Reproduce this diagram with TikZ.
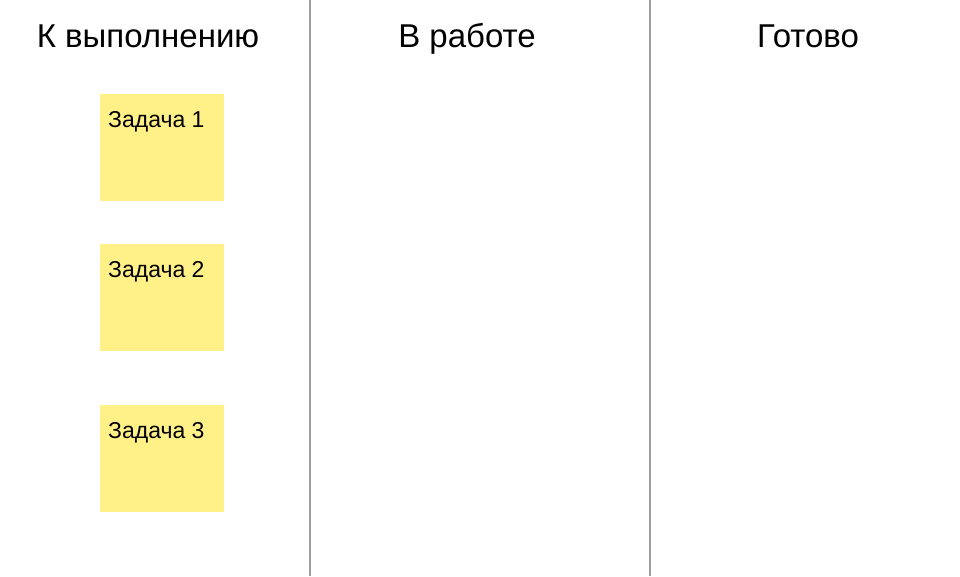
\documentclass[tikz,border=0pt]{standalone}
\usepackage{fontspec}
\setmainfont{Liberation Sans}
\usetikzlibrary{positioning}

\definecolor{notefill}{HTML}{FFF087}
\definecolor{divider}{HTML}{A0A0A0}

\tikzset{
    column/.style={anchor=base, font=\fontsize{33}{38}\selectfont},
    note/.style={fill=notefill, minimum width=124pt, minimum height=107pt, inner sep=0pt, anchor=north west},
    notetext/.style={anchor=base west, inner sep=0pt, font=\fontsize{23}{27}\selectfont},
    divider/.style={draw=divider, line width=2pt}
}

\begin{document}
\begin{tikzpicture}[x=1pt, y=-1pt]
	    \useasboundingbox (0, 0) rectangle (960, 576);
	    
	    \node[column] at (148, 47) (todo) {К выполнению};
	    \node[column] at (467, 47) (doing) {В работе};
	    \node[column] at (808, 47) (done) {Готово};
	    
	    \coordinate (div1top) at (310, 0);
	    \coordinate (div1bot) at (310, 576);
	    \coordinate (div2top) at (650, 0);
	    \coordinate (div2bot) at (650, 576);
	    
	    \node[note] at (100, 94) (task1) {};
	    \node[note] at (100, 244) (task2) {};
	    \node[note] at (100, 405) (task3) {};
	    
	    \node[notetext] at ([shift={(8pt, -33pt)}]task1.north west) (task1text) {Задача 1};
	    \node[notetext] at ([shift={(8pt, -33pt)}]task2.north west) (task2text) {Задача 2};
	    \node[notetext] at ([shift={(8pt, -33pt)}]task3.north west) (task3text) {Задача 3};
	    
	    \draw[divider] (div1top) -- (div1bot);
	    \draw[divider] (div2top) -- (div2bot);
	    
	    \end{tikzpicture}
\end{document}
